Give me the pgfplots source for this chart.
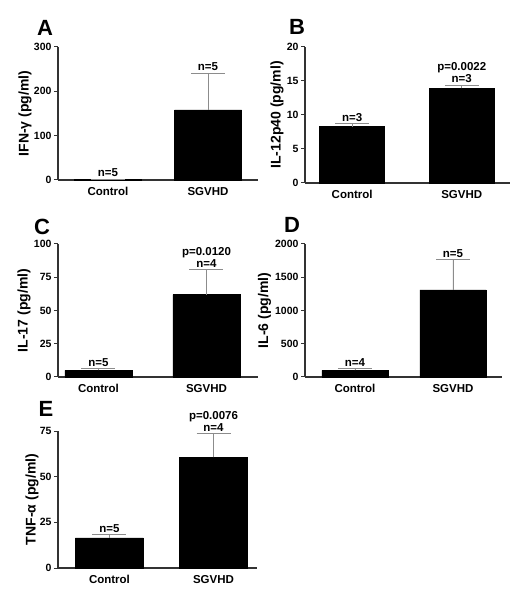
\documentclass[border=0pt]{standalone}
\usepackage{pgfplots}
\pgfplotsset{compat=1.18}
\usepackage{fontspec}
\setmainfont{Liberation Sans}
\pgfplotsset{
  panel/.style={
    scale only axis,
    axis lines*=left,
    axis line style={line width=1.1pt, black!80},
    ymin=0,
    xtick={0,1},
    xticklabels={Control,SGVHD},
    xtick style={draw=none},
    ytick style={line width=1pt, black!80},
    tick align=outside,
    ytick pos=left,
    major tick length=4pt,
    yticklabel style={font=\bfseries\fontsize{10.5}{12}\selectfont, xshift=1pt},
    xticklabel style={font=\bfseries\fontsize{11.5}{13}\selectfont},
    ylabel style={font=\bfseries\fontsize{14}{15}\selectfont, anchor=center},
    /pgf/number format/assume math mode=true,
    /pgf/number format/1000 sep={},
    clip=false,
  },
  mybar/.style={
    ybar, fill=black, draw=black, mark=none,
    error bars/y dir=plus, error bars/y explicit,
    error bars/error bar style={black!45, line width=0.9pt},
    error bars/error mark options={rotate=90, mark size=17pt, black!45, line width=0.9pt},
  },
}
\tikzset{
  nlab/.style={font=\bfseries\fontsize{11.5}{12.5}\selectfont, anchor=south, align=center, inner sep=1.5pt},
  letter/.style={font=\bfseries\fontsize{22}{22}\selectfont},
}
\begin{document}
\begin{tikzpicture}[x=1pt,y=1pt]
\path[use as bounding box] (0,0) rectangle (525,600);
% Panel letters
\node[letter] at (45,572) {A};
\node[letter] at (297,573) {B};
\node[letter] at (42,373) {C};
\node[letter] at (292,375) {D};
\node[letter] at (46,191) {E};

% A
\begin{axis}[panel, at={(58pt,420pt)}, anchor=south west, width=200pt, height=133pt,
  xmin=-0.5, xmax=1.5, ymax=300, ytick={0,100,200,300},
  ylabel={IFN-γ (pg/ml)}, ylabel style={at={(axis description cs:-0.165,0.5)}}]
\addplot[mybar, bar width=67pt] coordinates {(0,1.2) +- (0,0.3) (1,158) +- (0,82)};
\node[nlab] at (axis cs:0,4) {n=5};
\node[nlab] at (axis cs:1,242) {n=5};
\end{axis}

% B
\begin{axis}[panel, at={(305pt,417pt)}, anchor=south west, width=205pt, height=136pt,
  xmin=-0.43, xmax=1.44, ymax=20, ytick={0,5,10,15,20},
  ylabel={IL-12p40 (pg/ml)}, ylabel style={at={(axis description cs:-0.137,0.5)}}]
\addplot[mybar, bar width=65pt] coordinates {(0,8.3) +- (0,0.4) (1,13.9) +- (0,0.5)};
\node[nlab] at (axis cs:0,8.8) {n=3};
\node[nlab] at (axis cs:1,14.5) {p=0.0022\\n=3};
\end{axis}

% C
\begin{axis}[panel, at={(58pt,223pt)}, anchor=south west, width=200pt, height=133pt,
  xmin=-0.375, xmax=1.477, ymax=100, ytick={0,25,50,75,100},
  ylabel={IL-17 (pg/ml)}, ylabel style={at={(axis description cs:-0.17,0.5)}}]
\addplot[mybar, bar width=67pt] coordinates {(0,5) +- (0,1.3) (1,62) +- (0,18.7)};
\node[nlab] at (axis cs:0,6.5) {n=5};
\node[nlab] at (axis cs:1,81) {p=0.0120\\n=4};
\end{axis}

% D
\begin{axis}[panel, at={(305pt,223pt)}, anchor=south west, width=197pt, height=133pt,
  xmin=-0.51, xmax=1.5, ymax=2000, ytick={0,500,1000,1500,2000},
  ylabel={IL-6 (pg/ml)}, ylabel style={at={(axis description cs:-0.205,0.5)}}]
\addplot[mybar, bar width=66pt] coordinates {(0,100) +- (0,25) (1,1310) +- (0,455)};
\node[nlab] at (axis cs:0,128) {n=4};
\node[nlab] at (axis cs:1,1770) {n=5};
\end{axis}

% E
\begin{axis}[panel, at={(58pt,32pt)}, anchor=south west, width=199pt, height=137pt,
  xmin=-0.495, xmax=1.418, ymax=75, ytick={0,25,50,75},
  ylabel={TNF-α (pg/ml)}, ylabel style={at={(axis description cs:-0.13,0.5)}}]
\addplot[mybar, bar width=68pt] coordinates {(0,16.5) +- (0,2) (1,60.5) +- (0,13)};
\node[nlab] at (axis cs:0,18.7) {n=5};
\node[nlab] at (axis cs:1,73.7) {p=0.0076\\n=4};
\end{axis}
\end{tikzpicture}
\end{document}
